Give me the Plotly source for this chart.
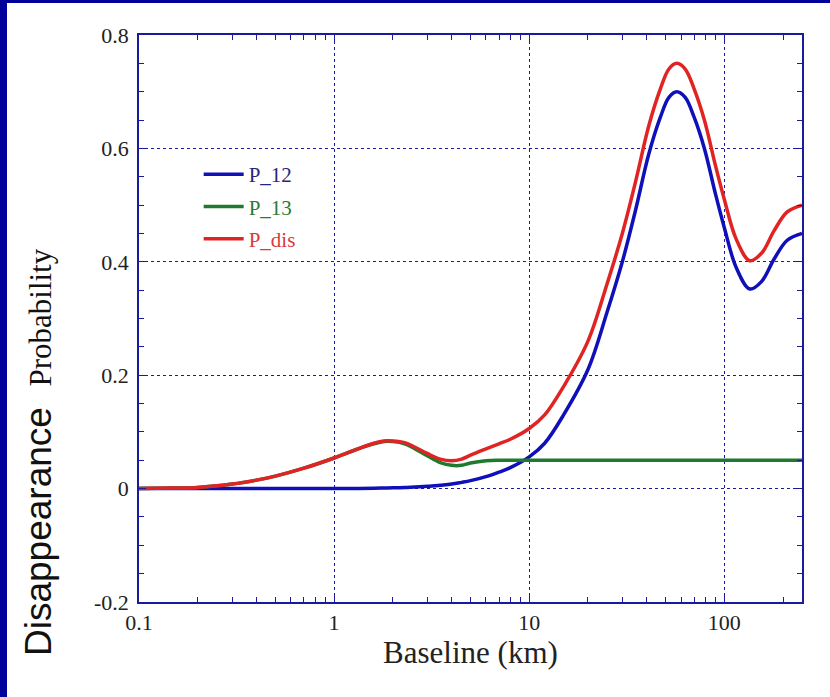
import plotly.graph_objects as go

# Baseline (km) sample points
baseline_km = [0.1, 0.15, 0.2, 0.3, 0.4, 0.5, 0.7, 1.0, 1.3, 1.6, 1.8, 2.0, 2.3, 2.6,
               3.0, 3.5, 4.0, 4.5, 5.0, 6.0, 7.0, 8.0, 10, 12, 15, 20, 25, 30, 35,
               41, 47, 52, 57, 63, 70, 79, 90, 100, 115, 135, 155, 180, 210, 250]

p_12 = [0, 0, 0, 0, 0, 0, 0, 0, 0.0003, 0.0006, 0.001, 0.0013, 0.002, 0.003,
        0.004, 0.006, 0.008, 0.011, 0.014, 0.021, 0.029, 0.037, 0.056, 0.08, 0.13,
        0.21, 0.31, 0.40, 0.49, 0.59, 0.655, 0.69, 0.70, 0.69, 0.655, 0.60, 0.52,
        0.46, 0.39, 0.352, 0.365, 0.405, 0.438, 0.45]

p_13 = [0, 0.001, 0.002, 0.008, 0.015, 0.022, 0.036, 0.054, 0.069, 0.079, 0.083,
        0.083, 0.079, 0.070, 0.058, 0.046, 0.041, 0.041, 0.045, 0.049, 0.050, 0.050,
        0.050, 0.050, 0.050, 0.050, 0.050, 0.050, 0.050, 0.050, 0.050, 0.050, 0.050,
        0.050, 0.050, 0.050, 0.050, 0.050, 0.050, 0.050, 0.050, 0.050, 0.050, 0.050]

p_dis = [0, 0.001, 0.002, 0.008, 0.015, 0.022, 0.036, 0.054, 0.069, 0.080, 0.084,
         0.084, 0.081, 0.073, 0.062, 0.052, 0.049, 0.052, 0.059, 0.070, 0.079, 0.087,
         0.106, 0.13, 0.18, 0.26, 0.36, 0.45, 0.54, 0.64, 0.705, 0.74, 0.75, 0.74,
         0.705, 0.65, 0.57, 0.51, 0.44, 0.402, 0.415, 0.455, 0.488, 0.50]

y_ticks = [-0.2, 0, 0.2, 0.4, 0.6, 0.8]
y_tick_text = ["-0.2", "0", "0.2", "0.4", "0.6", "0.8"]
x_ticks = [0.1, 1, 10, 100]
x_tick_text = ["0.1", "1", "10", "100"]

NAVY = "#1a1a9c"
SERIF = "Liberation Serif"

series = [
    ("P_12", p_12, "#1010b8", "#262680", 3.5),
    ("P_13", p_13, "#1f7a2e", "#2a7a38", 3.5),
    ("P_dis", p_dis, "#e02424", "#d83a3a", 3.5),
]

fig = go.Figure()
for i, (name, vals, color, text_color, width) in enumerate(series):
    fig.add_trace(go.Scatter(
        x=baseline_km, y=vals, mode="lines",
        name=f'<span style="color:{text_color}">{name}</span>',
        legendgroup=f"g{i}",
        line=dict(color=color, width=width, shape="spline", smoothing=1.0),
    ))

axis_common = dict(
    showline=True, linecolor=NAVY, linewidth=1.5, mirror="allticks",
    ticks="inside", ticklen=7, tickcolor=NAVY, tickwidth=1,
    showgrid=True, gridcolor=NAVY, gridwidth=1, griddash="dot",
    zeroline=False,
    tickfont=dict(family=SERIF, size=22, color="#222222"),
)

fig.update_xaxes(
    type="log", range=[-1, 2.398],
    tickvals=x_ticks, ticktext=x_tick_text,
    minor=dict(ticks="inside", ticklen=5, tickcolor=NAVY, dtick="D1", showgrid=False),
    title=dict(text="Baseline (km)", font=dict(family=SERIF, size=31, color="#222222"),
               standoff=7),
    **axis_common,
)
fig.update_yaxes(
    range=[-0.2, 0.8],
    tickvals=y_ticks, ticktext=y_tick_text,
    minor=dict(ticks="inside", ticklen=5, tickcolor=NAVY, dtick=0.05, showgrid=False),
    ticklabelstandoff=4,
    **axis_common,
)

# Left and top frame strips
fig.add_shape(type="rect", xref="paper", yref="paper",
              x0=-139 / 663, x1=-132 / 663, y0=-95 / 567, y1=602 / 567,
              fillcolor="#00009a", line=dict(width=0), layer="above")
fig.add_shape(type="rect", xref="paper", yref="paper",
              x0=-139 / 663, x1=691 / 663, y0=599 / 567, y1=602 / 567,
              fillcolor="#00009a", line=dict(width=0), layer="above")

# Y-axis title in two typefaces
fig.add_annotation(
    xref="paper", yref="paper", x=-101 / 663, y=-56 / 567,
    xanchor="center", yanchor="bottom", textangle=-90, showarrow=False,
    text='Disappearance  <span style="font-family:Liberation Serif;'
         'font-size:31px">Probability</span>',
    font=dict(family="Liberation Sans", size=37, color="#111111"),
)

fig.update_layout(
    width=830, height=697,
    margin=dict(l=139, r=28, t=35, b=95),
    paper_bgcolor="white", plot_bgcolor="white",
    showlegend=True,
    legend=dict(
        x=0.09, y=0.79, xanchor="left", yanchor="top",
        bgcolor="rgba(255,255,255,0.9)", borderwidth=0,
        font=dict(family=SERIF, size=21),
        tracegroupgap=2, itemwidth=40,
    ),
)

fig.write_html("out.html")
